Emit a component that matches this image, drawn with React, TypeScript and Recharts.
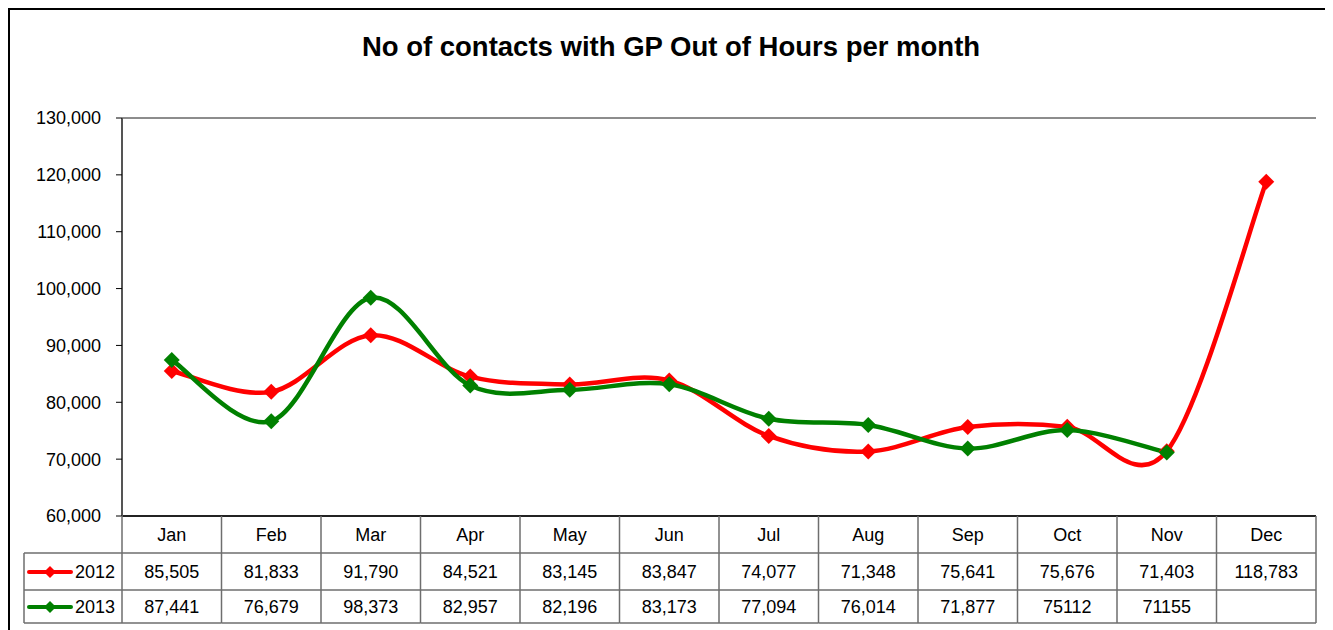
import React from 'react';
import { LineChart, Line, XAxis, YAxis, CartesianGrid } from 'recharts';

const months = ['Jan', 'Feb', 'Mar', 'Apr', 'May', 'Jun', 'Jul', 'Aug', 'Sep', 'Oct', 'Nov', 'Dec'];
const values2012 = [85505, 81833, 91790, 84521, 83145, 83847, 74077, 71348, 75641, 75676, 71403, 118783];
const values2013 = [87441, 76679, 98373, 82957, 82196, 83173, 77094, 76014, 71877, 75112, 71155, null];
// table text as printed in the source (some cells have no thousands separator)
const labels2012 = ['85,505', '81,833', '91,790', '84,521', '83,145', '83,847', '74,077', '71,348', '75,641', '75,676', '71,403', '118,783'];
const labels2013 = ['87,441', '76,679', '98,373', '82,957', '82,196', '83,173', '77,094', '76,014', '71,877', '75112', '71155', ''];
const yTicks = [60000, 70000, 80000, 90000, 100000, 110000, 120000, 130000];

const data = months.map((m, i) => ({ month: m, y2012: values2012[i], y2013: values2013[i] }));

const RED = '#ff0000';
const GREEN = '#008000';
const FONT = '"Liberation Sans", Arial, sans-serif';
const TABLE_LINE = '#6e6e6e';

const CHART_W = 1316;
const CHART_H = 616;
const PLOT_LEFT = 112;
const PLOT_RIGHT = 1306;
const HALF = (PLOT_RIGHT - PLOT_LEFT) / months.length / 2;
const ROW1 = 37;
const ROW2 = 74;
const ROW3 = 107;
const LEGEND_W = 98;

// Excel-like smoothed line (Catmull-Rom as cubic beziers)
function smoothCurve(context: any) {
  let pts: number[][] = [];
  return {
    areaStart() {},
    areaEnd() {},
    lineStart() {
      pts = [];
    },
    point(x: number, y: number) {
      pts.push([+x, +y]);
    },
    lineEnd() {
      if (!pts.length) return;
      context.moveTo(pts[0][0], pts[0][1]);
      const t = 1 / 6;
      for (let i = 0; i < pts.length - 1; i++) {
        const p0 = pts[i - 1] || pts[i];
        const p1 = pts[i];
        const p2 = pts[i + 1];
        const p3 = pts[i + 2] || p2;
        context.bezierCurveTo(
          p1[0] + (p2[0] - p0[0]) * t,
          p1[1] + (p2[1] - p0[1]) * t,
          p2[0] - (p3[0] - p1[0]) * t,
          p2[1] - (p3[1] - p1[1]) * t,
          p2[0],
          p2[1]
        );
      }
    },
  };
}

const Diamond = ({ cx, cy, color, size }: any) => {
  if (cx == null || cy == null || Number.isNaN(cy)) return null;
  const s = size;
  return <polygon points={`${cx},${cy - s} ${cx + s},${cy} ${cx},${cy + s} ${cx - s},${cy}`} fill={color} />;
};

const LegendKey = ({ x, y, color, label }: any) => (
  <g>
    <line x1={x + 5} y1={y} x2={x + 47} y2={y} stroke={color} strokeWidth={4} strokeLinecap="round" />
    <Diamond cx={x + 26} cy={y} size={6} color={color} />
    <text x={x + 51} y={y} dy="0.35em" fontSize={18} fontFamily={FONT} fill="#000">
      {label}
    </text>
  </g>
);

// Each x tick draws its column of the data table under the plot
const TableColumn = (props: any) => {
  const { x, y, index, payload } = props;
  const l = x - HALF;
  const r = x + HALF;
  const txt = { fontSize: 18, fontFamily: FONT, fill: '#000', textAnchor: 'middle' as const };
  return (
    <g>
      <text x={x} y={y + 19} dy="0.35em" {...txt}>{payload.value}</text>
      <text x={x} y={y + 56} dy="0.35em" {...txt}>{labels2012[index]}</text>
      <text x={x} y={y + 91} dy="0.35em" {...txt}>{labels2013[index]}</text>
      <line x1={l} y1={y + ROW1} x2={r} y2={y + ROW1} stroke={TABLE_LINE} strokeWidth={1.5} />
      <line x1={l} y1={y + ROW2} x2={r} y2={y + ROW2} stroke={TABLE_LINE} strokeWidth={1.5} />
      <line x1={l} y1={y + ROW3} x2={r} y2={y + ROW3} stroke={TABLE_LINE} strokeWidth={1.5} />
      <line x1={r} y1={y} x2={r} y2={y + ROW3} stroke={TABLE_LINE} strokeWidth={1.5} />
      {index === 0 && (
        <g>
          <line x1={l} y1={y} x2={l} y2={y + ROW3} stroke={TABLE_LINE} strokeWidth={1.5} />
          <line x1={l - LEGEND_W} y1={y + ROW1} x2={l} y2={y + ROW1} stroke={TABLE_LINE} strokeWidth={1.5} />
          <line x1={l - LEGEND_W} y1={y + ROW2} x2={l} y2={y + ROW2} stroke={TABLE_LINE} strokeWidth={1.5} />
          <line x1={l - LEGEND_W} y1={y + ROW3} x2={l} y2={y + ROW3} stroke={TABLE_LINE} strokeWidth={1.5} />
          <line x1={l - LEGEND_W} y1={y + ROW1} x2={l - LEGEND_W} y2={y + ROW3} stroke={TABLE_LINE} strokeWidth={1.5} />
          <LegendKey x={l - LEGEND_W} y={y + 56} color={RED} label="2012" />
          <LegendKey x={l - LEGEND_W} y={y + 91} color={GREEN} label="2013" />
        </g>
      )}
    </g>
  );
};

export default function App() {
  return (
    <div
      style={{
        position: 'relative',
        width: 1321,
        height: 640,
        border: '2px solid #000',
        boxSizing: 'border-box',
        background: '#fff',
      }}
    >
      <div
        style={{
          position: 'absolute',
          left: 0,
          top: 21,
          width: 1322,
          textAlign: 'center',
          fontFamily: FONT,
          fontWeight: 'bold',
          fontSize: 27.5,
          color: '#000',
        }}
      >
        No of contacts with GP Out of Hours per month
      </div>
      <div style={{ position: 'absolute', left: 0, top: 0 }}>
        <LineChart
          width={CHART_W}
          height={CHART_H}
          data={data}
          margin={{ top: 108, right: CHART_W - PLOT_RIGHT, left: 0, bottom: 0 }}
        >
          <CartesianGrid vertical={false} stroke="#1a1a1a" strokeWidth={1} />
          <XAxis
            dataKey="month"
            scale="band"
            interval={0}
            height={110}
            tickLine={false}
            tickSize={0}
            tickMargin={0}
            axisLine={{ stroke: '#000', strokeWidth: 1.5 }}
            tick={<TableColumn />}
          />
          <YAxis
            yAxisId="left"
            width={PLOT_LEFT}
            domain={[60000, 130000]}
            ticks={yTicks}
            interval={0}
            tickSize={6}
            tickMargin={15}
            tickFormatter={(v: number) => v.toLocaleString('en-US')}
            tick={{ fontSize: 18, fontFamily: FONT, fill: '#000' }}
            tickLine={{ stroke: '#000' }}
            axisLine={{ stroke: '#555', strokeWidth: 2 }}
          />
          <YAxis
            yAxisId="right"
            orientation="right"
            width={0}
            domain={[60000, 130000]}
            tick={false}
            tickLine={false}
            axisLine={{ stroke: '#999', strokeWidth: 2 }}
          />
          <Line
            yAxisId="left"
            dataKey="y2012"
            type={smoothCurve as any}
            stroke={RED}
            strokeWidth={4.5}
            dot={<Diamond size={8} color={RED} />}
            activeDot={false}
            isAnimationActive={false}
          />
          <Line
            yAxisId="left"
            dataKey="y2013"
            type={smoothCurve as any}
            stroke={GREEN}
            strokeWidth={4.5}
            dot={<Diamond size={8} color={GREEN} />}
            activeDot={false}
            isAnimationActive={false}
          />
        </LineChart>
      </div>
    </div>
  );
}
